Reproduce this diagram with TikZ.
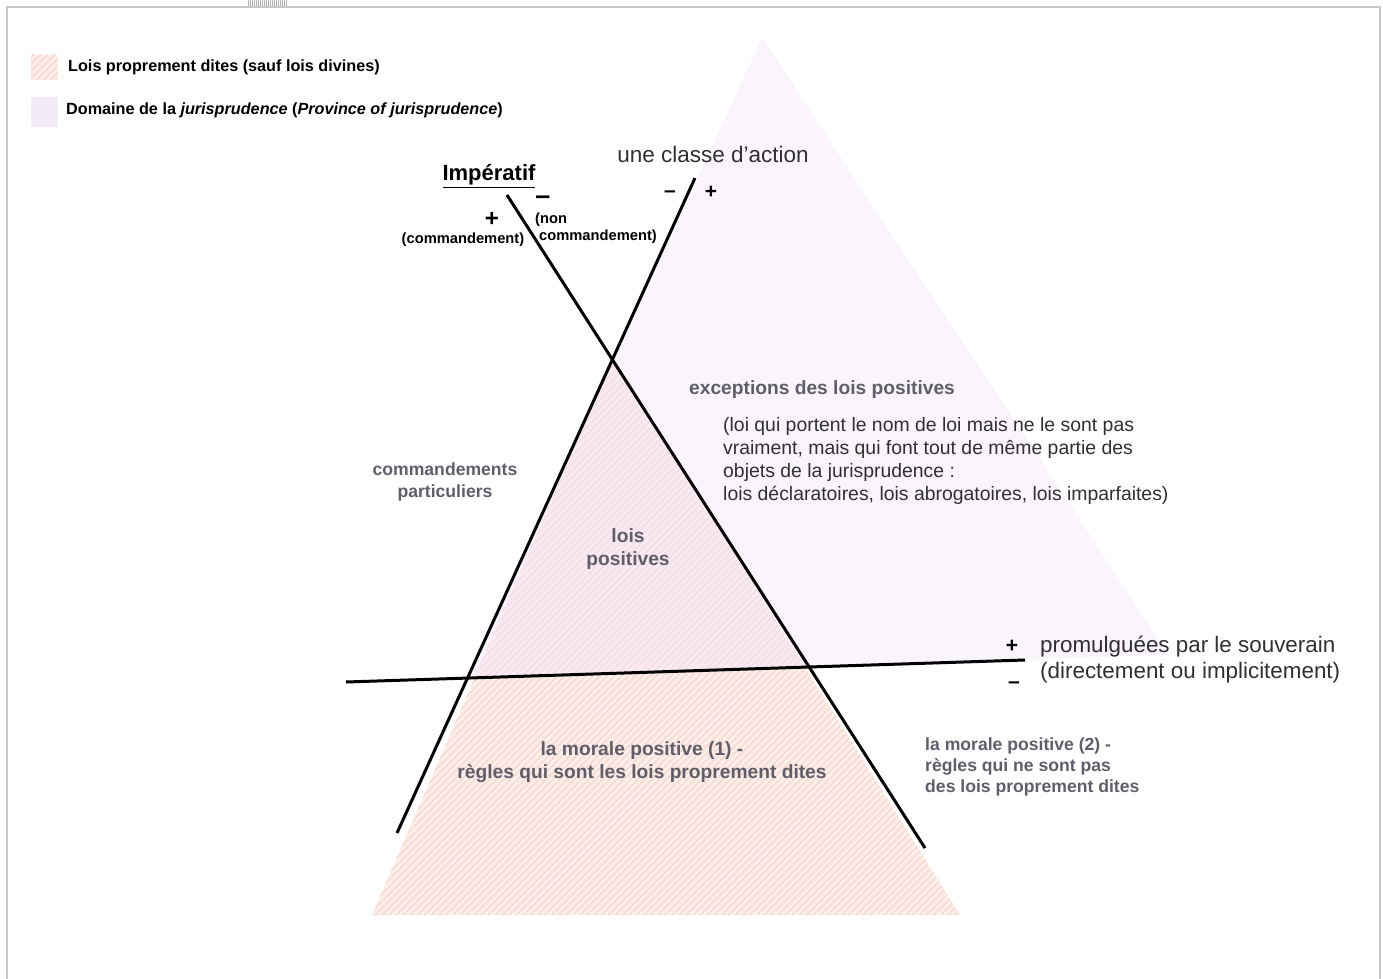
\documentclass[tikz,border=0pt]{standalone}
\usepackage{fontspec}
\setmainfont{Liberation Sans}
\usetikzlibrary{patterns.meta}

\definecolor{lavande}{RGB}{250,244,252}
\definecolor{lavandeleg}{RGB}{241,236,247}
\definecolor{rosehaut}{RGB}{250,234,242}
\definecolor{saumon}{RGB}{252,238,233}
\definecolor{raie}{RGB}{247,218,210}
\definecolor{raiehaut}{RGB}{246,222,232}
\definecolor{gristexte}{RGB}{96,94,106}
\definecolor{fonce}{RGB}{48,48,48}
\definecolor{cadre}{RGB}{200,200,200}

\newcommand{\corps}[2]{\fontsize{#1}{#2}\selectfont}

\tikzset{
  trait/.style={line width=3pt, black},
  hachure/.style={pattern={Lines[angle=45,distance=5pt,line width=1.5pt]}, pattern color=#1},
  legende/.style={anchor=west, inner sep=0pt, font=\corps{16.2}{19}\bfseries},
  petit/.style={inner sep=0pt, font=\corps{14.7}{17}\bfseries},
  signe/.style={inner sep=0pt, font=\corps{21}{24}\bfseries},
  gris/.style={inner sep=0pt, text=gristexte, font=\corps{19.2}{23}\bfseries},
  texte/.style={inner sep=0pt, text=fonce, font=\corps{19.4}{22.7}}
}

\begin{document}
\begin{tikzpicture}[x=1pt, y=-1pt]
\useasboundingbox (0,0) rectangle (1383,979);

% cadre
\draw[cadre, line width=1.5pt] (7,979) -- (7,7) -- (1380,7) -- (1380,979);
\fill[pattern={Lines[angle=90,distance=2pt,line width=0.6pt]}, pattern color=gray!60] (248,0) rectangle (287,6);

% les trois axes
\coordinate (impHaut) at (507,195);
\coordinate (impBas) at (925,848);
\coordinate (actHaut) at (695,178);
\coordinate (actBas) at (397,833);
\coordinate (promG) at (346,682);
\coordinate (promD) at (1025,660);
\coordinate (sommet) at (intersection of impHaut--impBas and actHaut--actBas);

% domaine de la jurisprudence
\fill[lavande] (762,38) -- (467,678) -- (1169,655) -- cycle;

% lois proprement dites
\fill[saumon] (sommet) -- (372,915) -- (960,915) -- cycle;
\fill[hachure=raie] (sommet) -- (372,915) -- (960,915) -- cycle;
\fill[rosehaut] (sommet) -- (474,678) -- (805,667) -- cycle;
\fill[hachure=raiehaut] (sommet) -- (474,678) -- (805,667) -- cycle;

\draw[trait] (impHaut) -- (impBas);
\draw[trait] (actHaut) -- (actBas);
\draw[trait] (promG) -- (promD);

% legende
\fill[saumon] (31,55) rectangle (58,80);
\fill[hachure=raie] (31,55) rectangle (58,80);
\node[legende] (legLois) at (68,67) {Lois proprement dites (sauf lois divines)};
\fill[lavandeleg] (31,97) rectangle (58,127);
\node[legende] (legDomaine) at (66,110) {Domaine de la \textit{jurisprudence} (\textit{Province of jurisprudence})};

% imperatif
\node[inner sep=0pt, font=\corps{22}{26}\bfseries] (imperatif) at (489,176) {\underline{Impératif}};
\node[signe, font=\corps{24}{28}\bfseries] (impPlus) at (492,219) {+};
\node[petit] (impOui) at (463,240) {(commandement)};
\node[signe, font=\corps{27}{30}\bfseries, text height=9pt, text depth=0pt] (impMoins) at (543,200) {–};
\node[petit, anchor=west] (impNon) at (535,220) {(non};
\node[petit] (impNonCmd) at (598,237) {commandement)};

% une classe d'action
\node[inner sep=0pt, text=fonce, font=\corps{22.5}{26}] (classe) at (713,154) {une classe d'action};
\node[signe] (actMoins) at (670,194) {–};
\node[signe] (actPlus) at (711,192) {+};

% promulguees
\node[signe] (promPlus) at (1012,646) {+};
\node[signe] (promMoins) at (1014,685) {–};
\node[texte, anchor=west, align=left, font=\corps{22.4}{26}] (promulguees) at (1040,660) {promulguées par le souverain\\(directement ou implicitement)};

% zones
\node[gris, anchor=west] (exceptions) at (689,390) {exceptions des lois positives};
\node[texte, anchor=west, align=left] (exceptionsDetail) at (723,461) {(loi qui portent le nom de loi mais ne le sont pas\\vraiment, mais qui font tout de même partie des\\objets de la jurisprudence :\\lois déclaratoires, lois abrogatoires, lois imparfaites)};
\node[gris, align=center, font=\corps{17.6}{22}\bfseries] (particuliers) at (445,482) {commandements\\particuliers};
\node[gris, align=center] (positives) at (628,549) {lois\\positives};
\node[gris, align=center] (morale1) at (642,762) {la morale positive (1) -\\règles qui sont les lois proprement dites};
\node[gris, anchor=west, align=left, font=\corps{17.6}{21}\bfseries] (morale2) at (925,767) {la morale positive (2) -\\règles qui ne sont pas\\des lois proprement dites};

\end{tikzpicture}
\end{document}
